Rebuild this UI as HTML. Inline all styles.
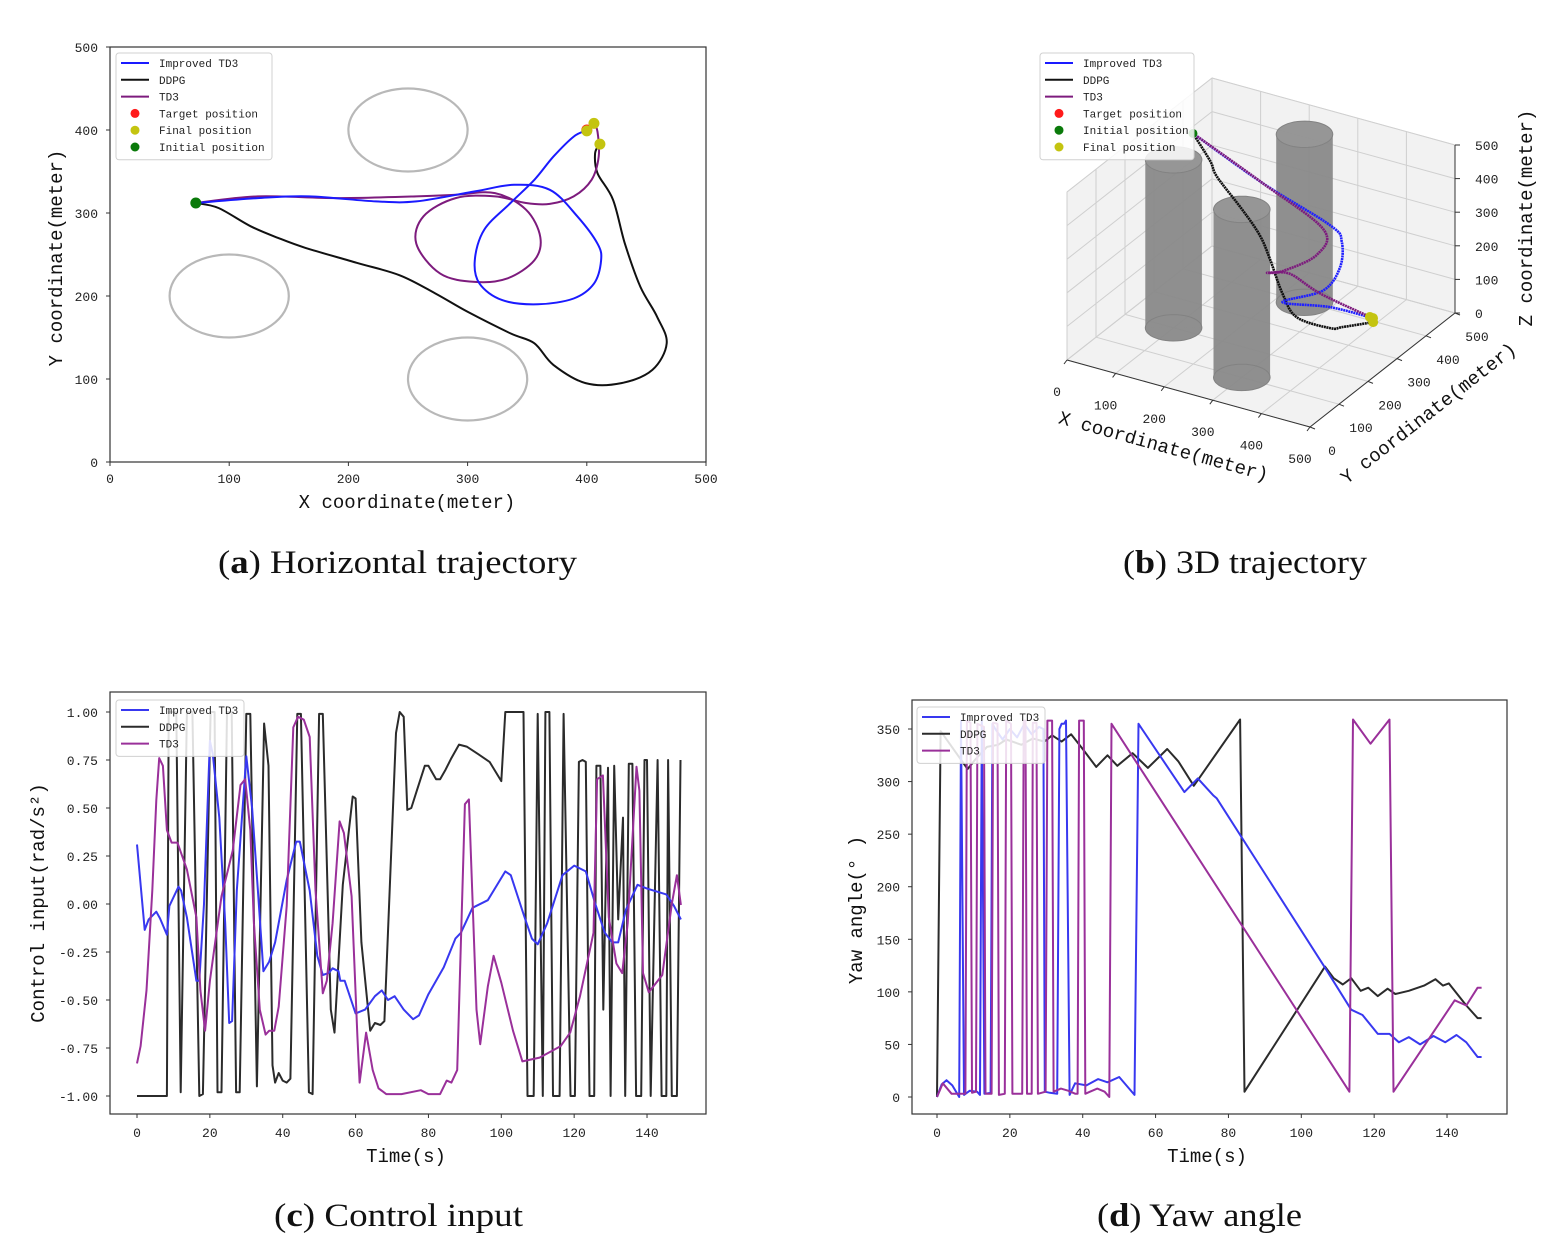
<!DOCTYPE html>
<html><head><meta charset="utf-8">
<style>
html,body{margin:0;padding:0;background:#fff;}
svg{display:block;}
.tk{font-family:"Liberation Mono","WenQuanYi Zen Hei",monospace;font-size:13px;fill:#222;}
.lab{font-family:"Liberation Mono","WenQuanYi Zen Hei",monospace;font-size:19px;fill:#111;}
.lg{font-family:"Liberation Mono","WenQuanYi Zen Hei",monospace;font-size:11px;fill:#222;}
.cap{font-family:"Liberation Serif",serif;font-size:33px;fill:#111;}
</style></head>
<body>
<svg id="fig" width="1554" height="1248" viewBox="0 0 1554 1248" xmlns="http://www.w3.org/2000/svg">
<text class="cap" x="218" y="573" textLength="359" lengthAdjust="spacingAndGlyphs">(<tspan font-weight="bold">a</tspan>)  Horizontal trajectory</text>
<text class="cap" x="1123" y="573" textLength="244" lengthAdjust="spacingAndGlyphs">(<tspan font-weight="bold">b</tspan>)  3D trajectory</text>
<text class="cap" x="274" y="1226" textLength="249" lengthAdjust="spacingAndGlyphs">(<tspan font-weight="bold">c</tspan>)  Control input</text>
<text class="cap" x="1097" y="1226" textLength="205" lengthAdjust="spacingAndGlyphs">(<tspan font-weight="bold">d</tspan>)  Yaw angle</text>
</svg>
<script>
// ---------- Panel (a) data: horizontal trajectories (x, y in meters) ----------
const aImprovedX=[72,124,167,223,257,306,339,369,392,409,412,406,389,359,329,310,306,314,336,356,372,389,399];
const aImprovedY=[312,318,320,314,314,326,334,328,296,263,243,215,197,190,195,215,243,280,312,340,368,392,399];
const aTD3X=[72,124,190,257,290,323,349,361,356,333,306,277,257,263,290,323,349,369,389,404,410,409,406];
const aTD3Y=[312,320,318,320,322,324,304,271,243,221,217,227,263,296,318,320,312,311,320,340,368,398,408];
const aDDPGX=[72,91,118,141,164,207,243,273,300,336,356,372,399,429,455,467,459,445,432,422,409,407,411];
const aDDPGY=[312,306,284,270,258,240,225,203,181,155,143,117,95,95,111,143,175,211,263,316,348,372,383];
const obstacleX=[250,100,300];
const obstacleY=[400,200,100];
const obstacleR=[50,50,50];
const finalX=[400,406,411];
const finalY=[399,408,383];
const targetXY=[400,400];
const initialXY=[72,312];
const aTicks=[0,100,200,300,400,500];

// ---------- Panel (b) data: 3D trajectories (x, y, z) ----------
const bImpX=[36,171,290,307,309,288,216,298,385];
const bImpY=[374,389,422,433,423,400,381,407,410];
const bImpZ=[435,330,230,180,110,50,0,0,0];
const bTD3X=[36,171,287,281,228,201,231,283,378];
const bTD3Y=[374,389,403,391,362,353,381,399,411];
const bTD3Z=[435,330,230,160,110,100,90,40,0];
const bDDX=[36,93,114,172,208,230,266,293,339,356,393];
const bDDY=[374,338,326,317,316,314,298,301,339,354,397];
const bDDZ=[435,400,370,300,240,180,100,40,0,0,0];
const cylX=[100,300,250];
const cylY=[200,100,400];
const cylR=[50,50,50];
const cylH=[500,500,500];
const bTicks=[0,100,200,300,400,500];

// ---------- Panel (c) data: control input ----------
const cImpT=[0,2.1,3.2,5.3,6.3,8.2,8.9,11.4,12.1,13.7,16.3,17.1,18.4,20,20.8,22.6,24.2,25.3,26.1,27.4,30,31.6,33.2,34.7,36.3,37.9,41.1,43.7,44.7,47.4,49.5,51,52.6,53.7,55.3,55.8,57,60,62.6,65.3,67.2,68.9,70.7,73.2,75.8,77.4,80,84.2,87.4,88.9,92.1,96.3,101.1,102.6,106.3,108.4,110,112.6,116.8,120,123.2,125.8,128.4,130.5,132.1,134.2,137.4,140,145.3,147.4,149.3];
const cImpV=[0.31,-0.135,-0.08,-0.04,-0.075,-0.16,-0.01,0.09,0.07,-0.07,-0.40,-0.40,0,0.85,0.78,0.45,-0.1,-0.62,-0.61,0.07,0.77,0.5,0.07,-0.35,-0.30,-0.2,0.125,0.325,0.325,0.07,-0.27,-0.37,-0.36,-0.335,-0.35,-0.40,-0.40,-0.57,-0.55,-0.48,-0.45,-0.5,-0.48,-0.55,-0.6,-0.58,-0.47,-0.33,-0.18,-0.15,-0.02,0.02,0.17,0.15,-0.065,-0.18,-0.21,-0.1,0.15,0.2,0.17,0,-0.15,-0.2,-0.2,-0.03,0.1,0.08,0.05,-0.01,-0.08];
const cTD3T=[0,1,2.6,4.2,5.3,6.1,7.1,8.2,9.5,11.1,13.7,16.3,17.4,18.7,20,23.2,26.3,28.4,29.7,31.1,32.1,33.7,35.3,36.3,37.7,38.9,41.1,42.9,44.2,45.8,47.4,49,51,52.1,53.7,55.6,56.8,58.9,60.5,61.1,62.9,64.7,66.3,68.4,72.6,77.9,80,83.2,85,86.3,87.9,90,91.1,93.2,94.2,96.3,97.9,100,103.2,105.8,110.5,116.3,118.9,121.6,125.3,126.3,127.9,129.5,131.6,133.2,134.7,137.1,137.9,138.9,140.5,144.2,146.8,148.2,149.3];
const cTD3V=[-0.83,-0.74,-0.45,0.07,0.54,0.76,0.72,0.385,0.32,0.32,0.18,-0.07,-0.45,-0.66,-0.40,0.04,0.28,0.62,0.65,0.385,-0.1,-0.55,-0.68,-0.66,-0.66,-0.535,-0.01,0.92,0.975,0.96,0.87,0.07,-0.465,-0.4,-0.1,0.43,0.37,0.04,-0.69,-0.93,-0.67,-0.865,-0.96,-0.99,-0.99,-0.97,-0.99,-0.99,-0.92,-0.93,-0.865,0.52,0.545,-0.55,-0.73,-0.43,-0.27,-0.41,-0.66,-0.82,-0.8,-0.74,-0.67,-0.48,-0.15,0.65,0.67,-0.07,-0.31,-0.36,-0.1,0.715,0.59,-0.36,-0.46,-0.37,0,0.15,-0.005];
const cDDT=[0,8.2,8.7,10.8,12,13.7,15.2,17.1,18.1,20.2,21.3,22.1,23.2,24.7,26,27.2,28.2,30,31.1,32.9,34.9,36.1,37.2,37.9,38.9,40,41.1,42.1,44,45,47.2,48.2,50,51,53.2,54.2,56.5,59.2,60,61.6,64,65.3,66.8,67.9,71.1,72.1,73.2,74.2,75.3,76.8,79,80,82.1,83.2,84.7,86.3,88.4,90.5,93.7,96.8,100,101.1,102.1,106.1,107.2,108.9,110,111.4,112.1,113.2,114.2,116,117.1,119,120.2,121.3,122.3,123.2,124.2,125.5,126.1,127.2,128,129.3,130,131,132.1,133.4,134,135,136,137,138.4,139.3,140,141,142.9,144,145.3,145.8,146.8,148.2,149.2];
const cDDV=[-1,-1,1,1,-0.98,1,1,-1,-0.99,1,1,-0.98,-0.98,1,1,-0.98,-0.98,0.99,0.99,-0.95,0.94,0.72,-0.84,-0.93,-0.88,-0.92,-0.93,-0.91,0.99,0.99,-0.98,-0.99,0.99,0.99,-0.55,-0.67,0.1,0.56,0.55,-0.2,-0.66,-0.62,-0.63,-0.61,0.89,1,0.975,0.49,0.5,0.59,0.72,0.72,0.65,0.65,0.7,0.76,0.83,0.82,0.78,0.74,0.64,1,1,1,-1,-1,0.99,-1,1,1,-1,-1,0.99,-1,-1,0.74,0.75,0.74,-1,-1,0.72,0.72,-0.55,0.71,-1,0.72,-0.08,0.45,-1,0.73,0.73,-1,-1,0.75,0.75,-1,0.75,-1,-1,0.75,-1,-1,0.75];
const cXTicks=[0,20,40,60,80,100,120,140];
const cYTicks=[1,0.75,0.5,0.25,0,-0.25,-0.5,-0.75,-1];
const cYLabels=["1.00","0.75","0.50","0.25","0.00","-0.25","-0.50","-0.75","-1.00"];

// ---------- Panel (d) data: yaw angle ----------
const dImpT=[0,1.3,2.6,4.2,6.1,6.6,7.4,9,11,11.8,12.3,13,14.7,15.2,16,18,20,22,24,26,28,29.2,29.6,31,33,33.6,34.2,34.9,35.4,36.4,37.9,41,44.2,46.8,50,54.2,55.3,67.9,71.6,75.8,76.8,106.3,113.7,116.8,121,124.2,126.8,129.5,132.6,136.3,139.5,142.6,145.3,148.4,149.5];
const dImpV=[0,12,16,11,0,358,2,6,5,2,358,3,4,355,350,340,350,342,355,345,352,350,5,4,3,350,355,355,358,2,13,11,17,14,19,2,355,290,303,287,284,124,83,78,60,60,52,57,50,58,52,59,52,38,38];
const dTD3T=[0,1.6,4,7.8,8.2,9.2,9.6,10.7,11.1,12.9,13.3,15,15.4,16.6,17,18.6,19,20.3,20.7,23.4,23.8,24.3,24.7,26,26.3,27.3,27.7,29.8,30.3,31.6,32,34,36,38,38.6,39,40.3,40.7,42,44,46,47.3,47.9,113.2,114.2,119,124.2,125.3,142.1,145.3,148.4,149.5];
const dTD3V=[0,13,3,3,358,356,4,5,355,352,3,3,356,355,2,3,358,355,3,3,358,358,3,3,356,356,3,5,358,358,5,8,6,3,3,358,358,3,5,8,5,0,355,5,359,336,359,5,92,87,104,104];
const dDDT=[0,1,8.4,10.5,13.7,16.8,19,23.2,26.3,29.5,31.6,34.2,36.8,40,43.7,46.8,49.5,53.7,57.9,63.2,66.3,70.5,72.1,83.2,84.4,106.5,108.9,111.4,113.7,116.3,118.4,121,123.7,125.8,129.5,133.7,136.8,138.9,140.5,145.3,148.4,149.5];
const dDDV=[0,348,312,321,333,335,340,335,341,338,344,338,345,331,314,325,315,327,313,331,319,296,304,359,5,124,113,107,113,101,104,96,103,98,101,106,112,106,108,87,75,75];
const dXTicks=[0,20,40,60,80,100,120,140];
const dYTicks=[0,50,100,150,200,250,300,350];

const NS='http://www.w3.org/2000/svg';
const svg=document.getElementById('fig');
function mk(tag,attrs,parent){const e=document.createElementNS(NS,tag);for(const k in attrs)e.setAttribute(k,attrs[k]);(parent||svg).appendChild(e);return e;}
function txt(s,x,y,cls,anchor,parent){const t=mk('text',{x:x,y:y,'class':cls,'text-anchor':anchor||'middle'},parent);t.textContent=s;return t;}
function ptsStr(xs,ys,fx,fy){return xs.map((v,i)=>fx(v).toFixed(1)+','+fy(ys[i]).toFixed(1)).join(' ');}
function smoothD(pts){
  let d='M'+pts[0][0].toFixed(1)+','+pts[0][1].toFixed(1);
  for(let i=0;i<pts.length-1;i++){
    const p0=pts[Math.max(0,i-1)],p1=pts[i],p2=pts[i+1],p3=pts[Math.min(pts.length-1,i+2)];
    const c1=[p1[0]+(p2[0]-p0[0])/6,p1[1]+(p2[1]-p0[1])/6],c2=[p2[0]-(p3[0]-p1[0])/6,p2[1]-(p3[1]-p1[1])/6];
    d+=' C'+c1[0].toFixed(1)+','+c1[1].toFixed(1)+' '+c2[0].toFixed(1)+','+c2[1].toFixed(1)+' '+p2[0].toFixed(1)+','+p2[1].toFixed(1);
  }
  return d;
}

// ================= Panel A =================
const ax=x=>110+x*596/500, ay=y=>462-y*415/500;
const gA=mk('g',{});


const fA=mk('rect',{x:110,y:47,width:596,height:415,fill:'none',stroke:'#333','stroke-width':1.2},gA);


aTicks.forEach(v=>{
  mk('line',{x1:ax(v),y1:462,x2:ax(v),y2:466,stroke:'#333'},gA);
  const t=txt(String(v),ax(v),483,'tk','middle',gA);
  
  
  mk('line',{x1:106,y1:ay(v),x2:110,y2:ay(v),stroke:'#333'},gA);
  const t2=txt(String(v),98,ay(v)+5,'tk','end',gA);
  
  
});
const xlA=txt('X coordinate(meter)',407,508,'lab','middle',gA);


const ylA=txt('Y coordinate(meter)',0,0,'lab','middle',gA);
ylA.setAttribute('transform','translate(62,258) rotate(-90)');


obstacleX.forEach((cx,i)=>{
  const e=mk('ellipse',{cx:ax(cx),cy:ay(obstacleY[i]),rx:obstacleR[i]*596/500,ry:obstacleR[i]*415/500,fill:'none',stroke:'#b8b8b8','stroke-width':2.2},gA);
  
  
});
[[aDDPGX,aDDPGY,'#111','ddpg-path-a'],[aTD3X,aTD3Y,'#7d1b7d','td3-path-a'],[aImprovedX,aImprovedY,'#1a1aff','improved-td3-path-a']].forEach(s=>{
  const pts=s[0].map((x,i)=>[ax(x),ay(s[1][i])]);
  const p=mk('path',{d:smoothD(pts),fill:'none',stroke:s[2],'stroke-width':2,'stroke-linejoin':'round'},gA);
  
  
});
const trA=mk('circle',{cx:ax(targetXY[0]),cy:ay(targetXY[1]),r:5.5,fill:'#ff1a1a'},gA);


finalX.forEach((x,i)=>{
  const c=mk('circle',{cx:ax(x),cy:ay(finalY[i]),r:5.5,fill:'#c4c410'},gA);
  
  
});
const inA=mk('circle',{cx:ax(initialXY[0]),cy:ay(initialXY[1]),r:5.5,fill:'#0a7a0a'},gA);



function legend(parent,x,y,w,entries,name){
  const g=mk('g',{},parent);
  
  
  mk('rect',{x:x,y:y,width:w,height:entries.length*16.8+6,rx:3,fill:'rgba(255,255,255,0.85)',stroke:'#d0d0d0'},g);
  entries.forEach((en,i)=>{
    const yy=y+10+i*16.8;
    if(en[1]==='line') mk('line',{x1:x+5,y1:yy,x2:x+33,y2:yy,stroke:en[2],'stroke-width':2},g);
    else mk('circle',{cx:x+19,cy:yy,r:4.5,fill:en[2]},g);
    const t=txt(en[0],x+43,yy+4,'lg','start',g);
    
    
  });
}
legend(gA,116,53,156,[['Improved TD3','line','#1a1aff'],['DDPG','line','#111'],['TD3','line','#7d1b7d'],['Target position','dot','#ff1a1a'],['Final position','dot','#c4c410'],['Initial position','dot','#0a7a0a']],'legend-a');

// ================= Panel B (3D) =================
const P=(x,y,z)=>[1067+x*0.486+y*0.29, 360+x*0.134-y*0.228-z*0.336];
const gB=mk('g',{});


function poly3(pts,attrs,par){return mk('polygon',Object.assign({points:pts.map(p=>{const q=P(p[0],p[1],p[2]);return q[0].toFixed(1)+','+q[1].toFixed(1);}).join(' ')},attrs),par||gB);}
function line3(a,b,attrs,par){const p=P(a[0],a[1],a[2]),q=P(b[0],b[1],b[2]);return mk('line',Object.assign({x1:p[0],y1:p[1],x2:q[0],y2:q[1]},attrs),par||gB);}
const pane={fill:'#f2f2f2',stroke:'#e4e4e4'};
const pf=poly3([[0,0,0],[500,0,0],[500,500,0],[0,500,0]],pane);


const pl=poly3([[0,0,0],[0,500,0],[0,500,500],[0,0,500]],pane);


const pb=poly3([[0,500,0],[500,500,0],[500,500,500],[0,500,500]],pane);


const gs={stroke:'#cfcfcf','stroke-width':1};
bTicks.forEach(v=>{
  line3([v,0,0],[v,500,0],gs); line3([0,v,0],[500,v,0],gs);
  line3([v,500,0],[v,500,500],gs); line3([0,500,v],[500,500,v],gs);
  line3([0,v,0],[0,v,500],gs); line3([0,0,v],[0,500,v],gs);
});
line3([0,0,0],[500,0,0],{stroke:'#333'});
line3([500,0,0],[500,500,0],{stroke:'#333'});
line3([500,500,0],[500,500,500],{stroke:'#333'});
bTicks.forEach(v=>{
  let p=P(v,0,0);
  mk('line',{x1:p[0],y1:p[1],x2:p[0]-3,y2:p[1]+4,stroke:'#333'},gB);
  let t=txt(String(v),p[0]-10,p[1]+36,'tk','middle',gB);
  
  
  p=P(500,v,0);
  mk('line',{x1:p[0],y1:p[1],x2:p[0]+5,y2:p[1]+2,stroke:'#333'},gB);
  t=txt(String(v),p[0]+22,p[1]+28,'tk','middle',gB);
  
  
  p=P(500,500,v);
  mk('line',{x1:p[0],y1:p[1],x2:p[0]+5,y2:p[1],stroke:'#333'},gB);
  t=txt(String(v),p[0]+20,p[1]+5,'tk','start',gB);
  
  
});
const xlB=txt('X coordinate(meter)',0,0,'lab','middle',gB);
xlB.setAttribute('transform','translate(1162,452) rotate(15.5)');


const ylB=txt('Y coordinate(meter)',0,0,'lab','middle',gB);
ylB.setAttribute('transform','translate(1432,418) rotate(-38)');


const zlB=txt('Z coordinate(meter)',0,0,'lab','middle',gB);
zlB.setAttribute('transform','translate(1532,218) rotate(-90)');


cylX.forEach((cx,i)=>{
  const g=mk('g',{opacity:0.95},gB);
  
  
  const N=48, bot=[], top=[];
  for(let k=0;k<N;k++){const a=2*Math.PI*k/N;bot.push(P(cx+cylR[i]*Math.cos(a),cylY[i]+cylR[i]*Math.sin(a),0));top.push(P(cx+cylR[i]*Math.cos(a),cylY[i]+cylR[i]*Math.sin(a),cylH[i]));}
  let li=0,ri=0;bot.forEach((p,k)=>{if(p[0]<bot[li][0])li=k;if(p[0]>bot[ri][0])ri=k;});
  const s=a=>a.map(p=>p[0].toFixed(1)+','+p[1].toFixed(1)).join(' ');
  mk('polygon',{points:s(bot),fill:'#8a8a8a'},g);
  mk('polygon',{points:s([top[li],top[ri],bot[ri],bot[li]]),fill:'#8a8a8a'},g);
  mk('polygon',{points:s(top),fill:'#929292',stroke:'#7d7d7d'},g);
  mk('polygon',{points:s(bot),fill:'none',stroke:'#7d7d7d'},g);
});
[[bDDX,bDDY,bDDZ,'#111','ddpg-path-b'],[bImpX,bImpY,bImpZ,'#2020ff','improved-td3-path-b'],[bTD3X,bTD3Y,bTD3Z,'#7d1b7d','td3-path-b']].forEach(s=>{
  const pts=s[0].map((x,i)=>P(x,s[1][i],s[2][i]));
  const p=mk('path',{d:smoothD(pts),fill:'none',stroke:s[3],'stroke-width':2.6,'stroke-linejoin':'round','stroke-dasharray':'2 0.6'},gB);
  
  
});
let q=P(bImpX[0],bImpY[0],bImpZ[0]);
const inB=mk('circle',{cx:q[0],cy:q[1],r:4.5,fill:'#0a7a0a'},gB);


[[bImpX,bImpY,bImpZ],[bTD3X,bTD3Y,bTD3Z],[bDDX,bDDY,bDDZ]].forEach(s=>{
  const n=s[0].length-1;const p=P(s[0][n],s[1][n],s[2][n]);
  const c=mk('circle',{cx:p[0],cy:p[1],r:5,fill:'#c4c410'},gB);
  
  
});
legend(gB,1040,53,154,[['Improved TD3','line','#1a1aff'],['DDPG','line','#111'],['TD3','line','#7d1b7d'],['Target position','dot','#ff1a1a'],['Initial position','dot','#0a7a0a'],['Final position','dot','#c4c410']],'legend-b');

// ================= Panel C =================
const cx=t=>137+t*3.643, cy=v=>904-v*192;
const gC=mk('g',{});


const fC=mk('rect',{x:110,y:692,width:596,height:422,fill:'none',stroke:'#333','stroke-width':1.2},gC);


cXTicks.forEach(v=>{
  mk('line',{x1:cx(v),y1:1114,x2:cx(v),y2:1118,stroke:'#333'},gC);
  const t=txt(String(v),cx(v),1137,'tk','middle',gC);
  
  
});
cYTicks.forEach((v,i)=>{
  mk('line',{x1:106,y1:cy(v),x2:110,y2:cy(v),stroke:'#333'},gC);
  const t=txt(cYLabels[i],98,cy(v)+5,'tk','end',gC);
  
  
});
const xlC=txt('Time(s)',406,1162,'lab','middle',gC);


const ylC=txt('Control input(rad/s²)',0,0,'lab','middle',gC);
ylC.setAttribute('transform','translate(44,903) rotate(-90)');


[[cDDT,cDDV,'#2b2b2b','ddpg-line-c'],[cImpT,cImpV,'#3838f0','improved-td3-line-c'],[cTD3T,cTD3V,'#9a309a','td3-line-c']].forEach(s=>{
  const p=mk('polyline',{points:ptsStr(s[0],s[1],cx,cy),fill:'none',stroke:s[2],'stroke-width':2,'stroke-linejoin':'round'},gC);
  
  
});
legend(gC,116,700,128,[['Improved TD3','line','#3838f0'],['DDPG','line','#2b2b2b'],['TD3','line','#9a309a']],'legend-c');

// ================= Panel D =================
const dx=t=>937+t*3.643, dy=v=>1097-v*1.0514;
const gD=mk('g',{});


const fD=mk('rect',{x:912,y:700,width:595,height:414,fill:'none',stroke:'#333','stroke-width':1.2},gD);


dXTicks.forEach(v=>{
  mk('line',{x1:dx(v),y1:1114,x2:dx(v),y2:1118,stroke:'#333'},gD);
  const t=txt(String(v),dx(v),1137,'tk','middle',gD);
  
  
});
dYTicks.forEach(v=>{
  mk('line',{x1:908,y1:dy(v),x2:912,y2:dy(v),stroke:'#333'},gD);
  const t=txt(String(v),900,dy(v)+5,'tk','end',gD);
  
  
});
const xlD=txt('Time(s)',1207,1162,'lab','middle',gD);


const ylD=txt('Yaw angle(° )',0,0,'lab','middle',gD);
ylD.setAttribute('transform','translate(862,910) rotate(-90)');


[[dDDT,dDDV,'#2b2b2b','ddpg-line-d'],[dImpT,dImpV,'#3838f0','improved-td3-line-d'],[dTD3T,dTD3V,'#9a309a','td3-line-d']].forEach(s=>{
  const p=mk('polyline',{points:ptsStr(s[0],s[1],dx,dy),fill:'none',stroke:s[2],'stroke-width':2,'stroke-linejoin':'round'},gD);
  
  
});
legend(gD,917,707,128,[['Improved TD3','line','#3838f0'],['DDPG','line','#2b2b2b'],['TD3','line','#9a309a']],'legend-d');
</script>
</body></html>
